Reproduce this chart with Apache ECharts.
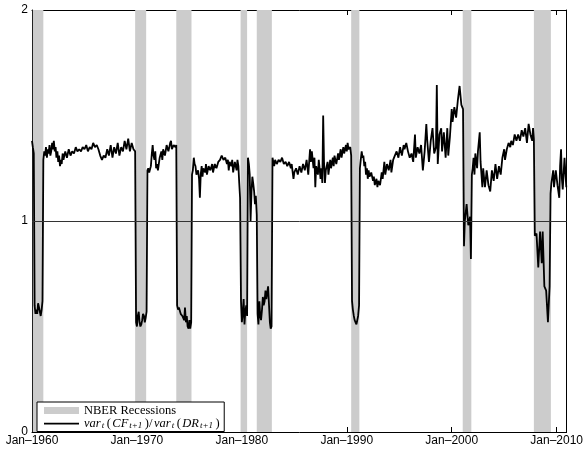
<!DOCTYPE html>
<html>
<head>
<meta charset="utf-8">
<script src="https://cdn.jsdelivr.net/npm/echarts@6/dist/echarts.min.js"></script>
<style>html,body{margin:0;padding:0;background:#fff}#c{width:586px;height:449px}</style>
</head>
<body>
<div id="c"></div>
<script>
// Decimal-year dates of the plotted observations
const years = [
1960.00,1960.08,1960.17,1960.25,1960.33,1960.42,1960.50,1960.58,1960.67,1960.75,1960.83,1960.92,
1961.00,1961.08,1961.17,1961.25,1961.33,1961.42,1961.50,1961.58,1961.67,1961.75,1961.83,1961.92,
1962.00,1962.08,1962.17,1962.25,1962.33,1962.42,1962.50,1962.58,1962.67,1962.75,1962.83,1962.92,
1963.00,1963.17,1963.33,1963.50,1963.67,1963.83,1964.00,1964.17,1964.33,1964.50,1964.67,1964.83,
1965.00,1965.17,1965.33,1965.50,1965.67,1965.83,1966.00,1966.17,1966.33,1966.50,1966.67,1966.83,
1967.00,1967.17,1967.33,1967.50,1967.67,1967.83,1968.00,1968.17,1968.33,1968.50,1968.67,1968.83,
1969.00,1969.17,1969.33,1969.50,1969.67,1969.83,1969.92,1970.00,1970.08,1970.17,1970.25,1970.33,
1970.42,1970.50,1970.58,1970.67,1970.75,1970.83,1970.92,1971.00,1971.08,1971.17,1971.33,1971.42,
1971.50,1971.58,1971.67,1971.75,1971.83,1971.92,1972.00,1972.17,1972.33,1972.42,1972.50,1972.67,
1972.83,1973.00,1973.17,1973.25,1973.33,1973.50,1973.67,1973.75,1973.83,1973.92,1974.00,1974.17,
1974.33,1974.50,1974.58,1974.67,1974.75,1974.83,1974.92,1975.00,1975.08,1975.17,1975.25,1975.33,
1975.42,1975.50,1975.58,1975.67,1975.83,1975.92,1976.00,1976.08,1976.17,1976.25,1976.33,1976.50,
1976.58,1976.67,1976.83,1977.00,1977.17,1977.25,1977.42,1977.58,1977.75,1977.92,1978.00,1978.08,
1978.25,1978.42,1978.58,1978.67,1978.75,1978.83,1979.00,1979.08,1979.17,1979.33,1979.50,1979.58,
1979.67,1979.75,1979.83,1979.92,1980.00,1980.08,1980.17,1980.25,1980.33,1980.42,1980.50,1980.58,
1980.67,1980.75,1980.83,1980.92,1981.00,1981.08,1981.17,1981.25,1981.33,1981.42,1981.50,1981.58,
1981.67,1981.75,1981.83,1981.92,1982.00,1982.08,1982.17,1982.25,1982.33,1982.42,1982.50,1982.58,
1982.67,1982.75,1982.83,1982.92,1983.00,1983.08,1983.17,1983.33,1983.50,1983.67,1983.83,1984.00,
1984.17,1984.33,1984.50,1984.67,1984.75,1984.92,1985.00,1985.17,1985.33,1985.50,1985.67,1985.83,
1986.00,1986.17,1986.33,1986.50,1986.58,1986.67,1986.83,1986.92,1987.00,1987.08,1987.25,1987.33,
1987.50,1987.58,1987.67,1987.75,1987.83,1987.92,1988.00,1988.17,1988.25,1988.42,1988.50,1988.67,
1988.75,1988.83,1989.00,1989.17,1989.25,1989.42,1989.50,1989.67,1989.75,1989.92,1990.00,1990.08,
1990.17,1990.33,1990.42,1990.50,1990.58,1990.67,1990.75,1990.83,1990.92,1991.00,1991.08,1991.17,
1991.25,1991.33,1991.42,1991.50,1991.58,1991.67,1991.75,1991.83,1991.92,1992.00,1992.08,1992.17,
1992.33,1992.50,1992.58,1992.67,1992.83,1992.92,1993.00,1993.17,1993.33,1993.42,1993.58,1993.67,
1993.83,1994.00,1994.17,1994.25,1994.42,1994.58,1994.75,1994.92,1995.08,1995.25,1995.42,1995.50,
1995.67,1995.83,1996.00,1996.17,1996.33,1996.50,1996.58,1996.75,1996.92,1997.08,1997.25,1997.42,
1997.58,1997.67,1997.83,1998.00,1998.17,1998.33,1998.50,1998.58,1998.67,1998.83,1999.00,1999.08,
1999.25,1999.42,1999.58,1999.67,1999.83,2000.00,2000.08,2000.25,2000.42,2000.58,2000.75,2000.92,
2001.08,2001.17,2001.25,2001.42,2001.58,2001.75,2001.83,2001.92,2002.00,2002.08,2002.17,2002.25,
2002.42,2002.50,2002.67,2002.75,2002.92,2003.00,2003.17,2003.33,2003.50,2003.67,2003.83,2004.00,
2004.17,2004.33,2004.50,2004.67,2004.83,2005.00,2005.08,2005.25,2005.42,2005.58,2005.67,2005.83,
2006.00,2006.17,2006.33,2006.50,2006.67,2006.83,2007.00,2007.17,2007.33,2007.50,2007.67,2007.75,
2007.83,2007.92,2008.08,2008.25,2008.42,2008.58,2008.67,2008.83,2009.00,2009.17,2009.33,2009.42,
2009.50,2009.67,2009.75,2009.92,2010.08,2010.25,2010.33,2010.42,2010.50,2010.58,2010.75,2010.92
];
// var_t(CF_{t+1}) / var_t(DR_{t+1})
const ratio = [
1.38,1.35,1.32,0.60,0.56,0.58,0.56,0.61,0.59,0.57,0.55,0.58,
0.62,1.29,1.33,1.31,1.35,1.30,1.34,1.32,1.36,1.31,1.33,1.37,
1.34,1.38,1.33,1.35,1.30,1.33,1.28,1.31,1.26,1.29,1.27,1.32,
1.29,1.33,1.30,1.34,1.31,1.33,1.32,1.35,1.33,1.34,1.33,1.35,
1.34,1.36,1.33,1.35,1.34,1.37,1.35,1.36,1.34,1.31,1.29,1.31,
1.30,1.34,1.31,1.36,1.30,1.35,1.32,1.37,1.31,1.35,1.33,1.38,
1.34,1.39,1.33,1.37,1.34,1.33,0.52,0.50,0.55,0.57,0.52,0.50,
0.51,0.53,0.56,0.55,0.52,0.54,0.57,1.24,1.25,1.23,1.26,1.32,
1.36,1.31,1.29,1.33,1.25,1.27,1.24,1.30,1.33,1.29,1.34,1.31,
1.36,1.33,1.37,1.38,1.34,1.36,1.35,1.36,0.60,0.58,0.59,0.56,
0.55,0.53,0.59,0.52,0.55,0.50,0.49,0.53,0.49,0.52,1.22,1.24,
1.30,1.27,1.26,1.22,1.24,1.20,1.11,1.22,1.26,1.21,1.25,1.23,
1.27,1.22,1.26,1.24,1.27,1.23,1.27,1.25,1.28,1.29,1.30,1.31,
1.29,1.30,1.27,1.29,1.24,1.28,1.26,1.29,1.23,1.28,1.24,1.29,
1.26,1.18,1.11,0.62,0.52,0.56,0.63,0.51,0.57,0.60,0.55,1.30,
1.27,1.22,1.00,1.14,1.21,1.18,1.14,1.08,1.12,1.03,0.56,0.51,
0.62,0.55,0.53,0.58,0.64,0.60,0.62,0.67,0.63,0.66,0.69,0.61,
0.52,0.49,0.50,1.30,1.28,1.26,1.29,1.27,1.29,1.28,1.30,1.27,
1.28,1.26,1.28,1.25,1.27,1.20,1.23,1.25,1.22,1.26,1.23,1.27,
1.24,1.29,1.22,1.34,1.28,1.33,1.25,1.30,1.16,1.26,1.22,1.29,
1.20,1.25,1.18,1.50,1.28,1.18,1.24,1.28,1.22,1.29,1.25,1.30,
1.26,1.31,1.27,1.32,1.29,1.34,1.30,1.35,1.32,1.36,1.33,1.37,
1.34,1.35,1.31,0.62,0.58,0.55,0.53,0.52,0.51,0.53,0.55,0.60,
1.25,1.29,1.33,1.30,1.31,1.26,1.28,1.22,1.25,1.20,1.24,1.21,
1.23,1.19,1.21,1.17,1.20,1.16,1.19,1.17,1.23,1.20,1.28,1.22,
1.27,1.24,1.29,1.23,1.29,1.31,1.33,1.30,1.35,1.31,1.36,1.34,
1.37,1.33,1.30,1.32,1.28,1.41,1.30,1.35,1.32,1.36,1.24,1.33,
1.46,1.38,1.28,1.38,1.44,1.32,1.35,1.645,1.27,1.41,1.44,1.33,
1.42,1.30,1.44,1.31,1.40,1.53,1.47,1.54,1.49,1.57,1.64,1.55,
1.53,0.88,1.00,1.08,0.98,1.02,0.82,1.22,1.25,1.30,1.22,1.32,
1.25,1.33,1.42,1.28,1.16,1.25,1.16,1.24,1.17,1.14,1.24,1.19,
1.27,1.20,1.26,1.22,1.30,1.34,1.29,1.34,1.37,1.35,1.38,1.36,
1.41,1.38,1.41,1.38,1.43,1.40,1.44,1.37,1.46,1.41,1.38,1.44,
1.39,0.93,0.94,0.78,0.95,0.80,0.95,0.69,0.67,0.52,0.69,1.13,
1.18,1.24,1.16,1.24,1.17,1.11,1.26,1.34,1.20,1.15,1.30,1.16
];
// NBER recession periods (decimal years)
const recStart = [1960.08, 1969.83, 1973.75, 1979.88, 1981.42, 1990.42, 2001.05, 2007.83];
const recEnd   = [1961.08, 1970.88, 1975.20, 1980.50, 1982.86, 1991.20, 2001.87, 2009.45];
// Axis ticks
const xTicks = [1960, 1970, 1980, 1990, 2000, 2010];
const yTicks = [0, 1, 2];

const chart = echarts.init(document.getElementById('c'), null, {renderer: 'canvas'});
const xMin = 1960, xMax = 2010.95;
const fmtX = v => {
  const r = Math.round(v);
  return (Math.abs(v - r) < 1e-6 && xTicks.indexOf(r) >= 0) ? 'Jan\u2013' + r : '';
};
const lineData = years.map((y, i) => [y, ratio[i]]);
const areas = recStart.map((s, i) => [{xAxis: s}, {xAxis: recEnd[i]}]);

const axisCommonX = {
  type: 'value', min: xMin, max: xMax, interval: 10,
  splitLine: {show: false},
  axisLine: {show: true, onZero: false, lineStyle: {color: '#000', width: 1}},
  axisTick: {show: true, inside: true, length: 5, lineStyle: {color: '#000'}}
};
const axisCommonY = {
  type: 'value', min: 0, max: 2, interval: 1,
  splitLine: {show: false},
  axisLine: {show: true, onZero: false, lineStyle: {color: '#000', width: 1}},
  axisTick: {show: true, inside: true, length: 5, lineStyle: {color: '#000'}}
};

chart.setOption({
  animation: false,
  backgroundColor: '#fff',
  grid: {left: 32, right: 18, top: 10, bottom: 17, containLabel: false},
  xAxis: [
    Object.assign({}, axisCommonX, {position: 'bottom',
      axisLabel: {show: true, formatter: fmtX, color: '#000', fontFamily: 'Liberation Sans', fontSize: 12, margin: 3,
        showMinLabel: true, showMaxLabel: false}}),
    Object.assign({}, axisCommonX, {position: 'top', axisLabel: {show: false}})
  ],
  yAxis: [
    Object.assign({}, axisCommonY, {position: 'left',
      axisLabel: {show: true, color: '#000', fontFamily: 'Liberation Sans', fontSize: 12, margin: 4}}),
    Object.assign({}, axisCommonY, {position: 'right', axisLabel: {show: false}})
  ],
  legend: {
    show: true,
    orient: 'vertical',
    left: 37, top: 402,
    padding: [2, 3, 1, 7],
    itemGap: 0,
    itemWidth: 35, itemHeight: 7,
    borderColor: '#000', borderWidth: 1,
    backgroundColor: '#fff',
    selectedMode: false,
    textStyle: {
      fontFamily: 'Liberation Serif', fontSize: 12.5, color: '#000', lineHeight: 13,
      rich: {
        it: {fontFamily: 'Liberation Serif', fontStyle: 'italic', fontSize: 12.5, color: '#000', padding: [0, 1, 0, 0]},
        n: {fontFamily: 'Liberation Serif', fontSize: 12.5, color: '#000', padding: [0, 1.5, 0, 1.5]},
        sub: {fontFamily: 'Liberation Serif', fontStyle: 'italic', fontSize: 9, color: '#000', padding: [5, 1, 0, 0]}
      }
    },
    formatter: function (name) {
      if (name === 'ratio') {
        return '{it|var}{sub|t}{n|(}{it|CF}{sub|t+1}{n|)/}{it|var}{sub|t}{n|(}{it|DR}{sub|t+1}{n|)}';
      }
      return name;
    },
    data: [
      {name: 'NBER Recessions', icon: 'rect', itemStyle: {color: '#cccccc'}},
      {name: 'ratio', icon: 'path://M0,0 H40 V2 H0 Z', itemStyle: {color: '#000'}}
    ]
  },
  series: [
    {
      name: 'NBER Recessions', type: 'line', data: [], z: 1,
      itemStyle: {color: '#cccccc'},
      markArea: {silent: true, itemStyle: {color: '#cccccc'}, data: areas}
    },
    {
      name: 'ratio', type: 'line', data: lineData, z: 3,
      showSymbol: false, symbol: 'none',
      lineStyle: {color: '#000', width: 1.8},
      itemStyle: {color: '#000'},
      markLine: {
        silent: true, symbol: ['none', 'none'],
        label: {show: false},
        lineStyle: {color: '#333', width: 1, type: 'solid'},
        data: [{yAxis: 1}]
      }
    }
  ]
});
</script>
</body>
</html>
